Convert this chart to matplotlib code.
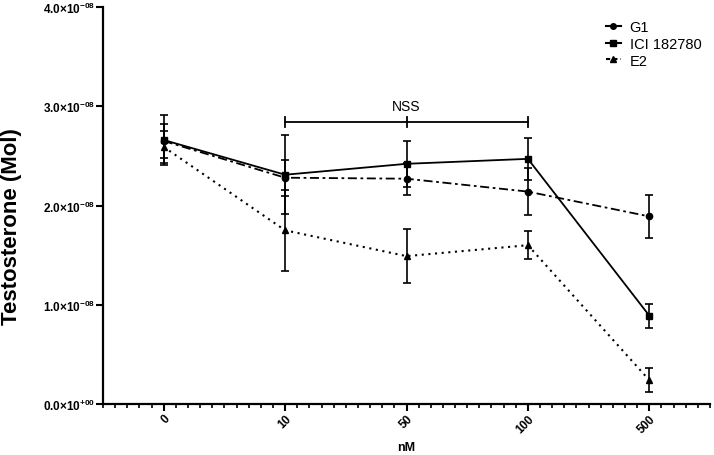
import matplotlib
matplotlib.use("Agg")
import matplotlib.pyplot as plt
from matplotlib.lines import Line2D
from matplotlib.ticker import FixedLocator, MultipleLocator
import numpy as np

plt.rcParams['font.family'] = ['Liberation Sans', 'DejaVu Sans']
plt.rcParams['mathtext.fontset'] = 'custom'
plt.rcParams['mathtext.rm'] = 'Liberation Sans:bold'
plt.rcParams['mathtext.default'] = 'rm'

# ---- data ----
categories = ['0', '10', '50', '100', '500']
g1 = [2.65e-8, 2.28e-8, 2.27e-8, 2.14e-8, 1.89e-8]
g1_err = [0.17e-8, 0.18e-8, 0.16e-8, 0.24e-8, 0.22e-8]
ici = [2.66e-8, 2.31e-8, 2.42e-8, 2.47e-8, 0.89e-8]
ici_err = [0.25e-8, 0.40e-8, 0.23e-8, 0.21e-8, 0.12e-8]
e2 = [2.59e-8, 1.75e-8, 1.49e-8, 1.60e-8, 0.24e-8]
e2_err = [0.16e-8, 0.41e-8, 0.27e-8, 0.14e-8, 0.12e-8]
yticks = [0.0, 1.0e-8, 2.0e-8, 3.0e-8, 4.0e-8]
nss_range = [1, 3]
nss_y = 2.84e-8

fig = plt.figure(figsize=(7.14, 4.56), dpi=100)
ax = fig.add_axes([103/714, 51/456, 607/714, 397/456])

x = np.arange(len(categories))
lw = 1.3
ekw = dict(ecolor='black', elinewidth=1.2, capsize=3, capthick=1.2)

ax.errorbar(x, ici, yerr=ici_err, color='black', lw=lw, ls='-', marker='s',
            ms=4.5, **ekw)
ax.errorbar(x, g1, yerr=g1_err, color='black', lw=lw, ls=(0, (5, 2, 1.5, 2)),
            marker='o', ms=4.5, **ekw)
ax.errorbar(x, e2, yerr=e2_err, color='black', lw=1.5, ls=(0, (1, 2.2)),
            marker='^', ms=4.5, **ekw)

# NSS bracket
ax.plot(nss_range, [nss_y, nss_y], color='black', lw=1.3)
for xi in range(nss_range[0], nss_range[1] + 1):
    ax.plot([xi, xi], [nss_y - 0.05e-8, nss_y + 0.05e-8], color='black', lw=1.3)
ax.text(2, 3.0e-8, 'NSS', ha='center', va='center', fontsize=10)

ax.set_xlim(-0.5, 4.5)
ax.set_ylim(0, 4.0e-8)

ax.xaxis.set_major_locator(FixedLocator(x))
ax.xaxis.set_minor_locator(MultipleLocator(0.1))
ax.set_xticklabels(categories, rotation=45, ha='right', va='top',
                   rotation_mode='anchor', fontweight='bold', fontsize=8.5)

def ylab(v):
    if v == 0:
        m, e = 0.0, '+00'
    else:
        ex = int(np.floor(np.log10(v)))
        m = v / 10**ex
        e = f'{ex:+03d}'
    return f'{m:.1f}' + r'$\times$10$^{' + e + '}$'

ax.set_yticks(yticks)
ax.set_yticklabels([ylab(v) for v in yticks], fontweight='bold', fontsize=8.5)

for s in ['top', 'right']:
    ax.spines[s].set_visible(False)
for s in ['left', 'bottom']:
    ax.spines[s].set_linewidth(1.6)

ax.tick_params(axis='both', which='major', direction='out', length=5, width=1.5,
               color='black', pad=1)
ax.tick_params(axis='x', which='minor', direction='out', length=3, width=1.2)
ax.tick_params(axis='x', which='major', pad=1)

ax.set_xlabel('nM', fontweight='bold', fontsize=9)
ax.xaxis.set_label_coords(0.5, -0.094)
ax.set_ylabel('Testosterone (Mol)', fontweight='bold', fontsize=16)
ax.yaxis.set_label_coords(-0.133, 0.45)

handles = [
    Line2D([], [], color='black', lw=1.5, ls='-', marker='o', ms=4),
    Line2D([], [], color='black', lw=1.5, ls='-', marker='s', ms=4),
    Line2D([], [], color='black', lw=1.5, ls=(0, (2, 1.5)), marker='^', ms=4),
]
ax.legend(handles, ['G1', 'ICI 182780', 'E2'], loc='upper right',
          bbox_to_anchor=(1.0, 0.99), frameon=False, fontsize=10.5,
          handlelength=1.0, handletextpad=0.6, labelspacing=0.2,
          borderaxespad=0.2)

fig.savefig('out.png', dpi=100)
